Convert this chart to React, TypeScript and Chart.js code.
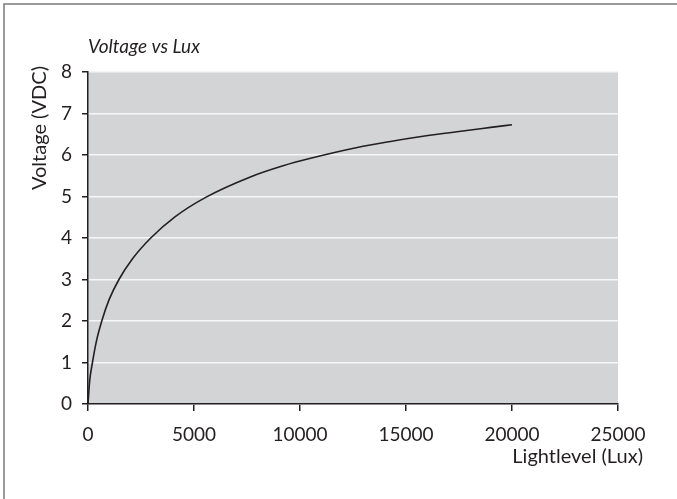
import React, { useEffect, useRef } from "react";
import { Chart, registerables } from "chart.js";

Chart.register(...registerables);

const luxValues = [0, 80, 210, 400, 650, 1000, 1460, 2100, 2960, 4100, 5550, 7600, 9200, 10500, 12700, 14200, 15800, 17400, 19000, 20000];
const voltageValues = [0, 0.56, 1.0, 1.52, 2.0, 2.52, 3.0, 3.5, 4.0, 4.51, 4.98, 5.46, 5.74, 5.92, 6.18, 6.32, 6.45, 6.56, 6.665, 6.73];
const xTicks = [0, 5000, 10000, 15000, 20000, 25000];
const yTicks = [0, 1, 2, 3, 4, 5, 6, 7, 8];
const chartTitle = "Voltage vs Lux";
const xAxisTitle = "Lightlevel (Lux)";
const yAxisTitle = "Voltage (VDC)";

const INK = "#231f20";
const FONT = "Lato";

const decorPlugin = {
  id: "decor",
  beforeDraw(chart: any) {
    const { ctx, chartArea } = chart;
    ctx.save();
    ctx.fillStyle = "#ffffff";
    ctx.fillRect(0, 0, chart.width, chart.height);
    ctx.fillStyle = "#d3d4d6";
    ctx.fillRect(chartArea.left, chartArea.top, chartArea.right - chartArea.left, chartArea.bottom - chartArea.top);
    ctx.strokeStyle = "#7a7a7a";
    ctx.lineWidth = 1.5;
    ctx.beginPath();
    ctx.moveTo(4, chart.height);
    ctx.lineTo(4, 4);
    ctx.lineTo(chart.width, 4);
    ctx.stroke();
    ctx.restore();
  },
  afterDraw(chart: any) {
    const { ctx, chartArea } = chart;
    ctx.save();
    ctx.fillStyle = INK;
    ctx.textBaseline = "middle";
    ctx.font = `italic 19px ${FONT}`;
    ctx.textAlign = "left";
    ctx.fillText(chartTitle, chartArea.left, 47);
    ctx.font = `20px ${FONT}`;
    ctx.textAlign = "right";
    ctx.fillText(xAxisTitle, 643, 457);
    ctx.translate(40, 128);
    ctx.rotate(-Math.PI / 2);
    ctx.textAlign = "center";
    ctx.fillText(yAxisTitle, 0, 0);
    ctx.restore();
  },
};

export default function App() {
  const ref = useRef<HTMLCanvasElement>(null);
  useEffect(() => {
    document.body.style.margin = "0";
    const canvas = ref.current!;
    const chart = new Chart(canvas, {
      type: "scatter",
      data: {
        datasets: [
          {
            data: luxValues.map((x, i) => ({ x, y: voltageValues[i] })),
            showLine: true,
            borderColor: INK,
            borderWidth: 1.6,
            pointRadius: 0,
            cubicInterpolationMode: "monotone",
            fill: false,
          } as any,
        ],
      },
      options: {
        responsive: false,
        animation: false,
        devicePixelRatio: 1,
        layout: { padding: { left: 0, top: 72, right: 59, bottom: 0 } },
        plugins: {
          legend: { display: false },
          tooltip: { enabled: false },
          title: { display: false },
        },
        scales: {
          x: {
            type: "linear",
            min: 0,
            max: 25000,
            afterBuildTicks: (s: any) => {
              s.ticks = xTicks.map((v) => ({ value: v }));
            },
            afterFit: (s: any) => {
              s.height = 95;
            },
            grid: { drawOnChartArea: false, tickLength: 7, tickColor: INK, lineWidth: 1.5, color: INK },
            border: { color: INK, width: 1.5 },
            ticks: {
              color: INK,
              font: { family: FONT, size: 19 },
              padding: 12,
              maxRotation: 0,
              autoSkip: false,
              callback: (v: any) => String(v),
            },
          },
          y: {
            type: "linear",
            min: 0,
            max: 8,
            afterBuildTicks: (s: any) => {
              s.ticks = yTicks.map((v) => ({ value: v }));
            },
            afterFit: (s: any) => {
              s.width = 88;
            },
            grid: { color: "#f6f6f6", lineWidth: 1.5, tickColor: INK, tickLength: 6 },
            border: { color: INK, width: 1.5 },
            ticks: {
              color: INK,
              font: { family: FONT, size: 19 },
              padding: 10,
              autoSkip: false,
              callback: (v: any) => String(v),
            },
          },
        },
      } as any,
      plugins: [decorPlugin],
    });
    return () => chart.destroy();
  }, []);
  return <canvas ref={ref} width={677} height={499} style={{ display: "block" }} />;
}
